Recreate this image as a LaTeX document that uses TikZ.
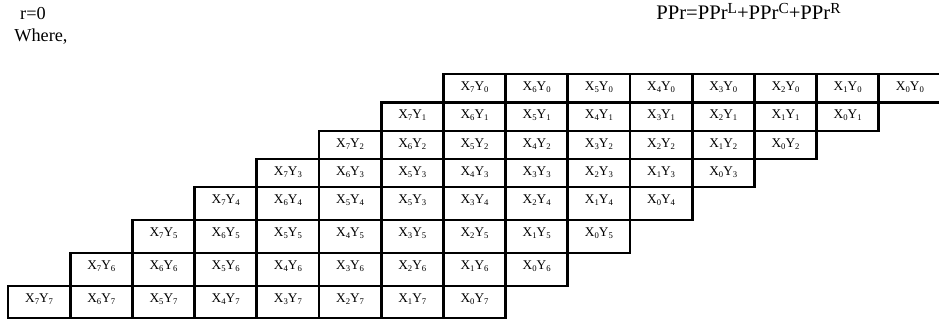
\documentclass[tikz,border=0pt]{standalone}
\usepackage{fontspec}
\setmainfont{Liberation Serif}
\usepackage{tikz}
\usetikzlibrary{positioning, calc}

\newcommand{\lowidx}[1]{\raisebox{-0.3ex}{\fontsize{6.5}{7}\selectfont #1}}
\newcommand{\highidx}[1]{\raisebox{0.7ex}{\fontsize{11.5}{12}\selectfont #1}}

\tikzset{
  cellbox/.style={draw=black, line width=2pt, fill=white},
  celltext/.style={font=\fontsize{10}{11}\selectfont, inner sep=0pt},
  headtext/.style={font=\fontsize{13.7}{15}\selectfont, inner sep=0pt},
  eqtext/.style={font=\fontsize{15.5}{17}\selectfont, inner sep=0pt}
}

\begin{document}
\begin{tikzpicture}[x=0.75pt, y=-0.75pt]
  \useasboundingbox (0,0) rectangle (939,321);

  %% Heading
  \node[headtext, anchor=base] (rzero) at (33,20) {r=0};
  \node[headtext, anchor=base west] (where) at (14,42) {Where,};
  \node[eqtext, anchor=base west] (ppr) at (656,20)
    {PPr=PPr\highidx{L}+PPr\highidx{C}+PPr\highidx{R}};

  %% Partial product rows: row / top / bottom
  \foreach \r/\top/\bot in {0/74/102.5, 1/102.5/131, 2/131/159, 3/159/187,
                            4/187/220, 5/220/253, 6/253/286, 7/286/318} {
    \foreach \k in {0,...,7} {
      \pgfmathtruncatemacro\col{7-\r+\k}
      \pgfmathtruncatemacro\xi{(\r==4 && \k==3) ? 5 : 7-\k}
      \pgfmathtruncatemacro\yi{(\r==4 && \k==3) ? 3 : \r}
      \draw[cellbox] ({8+\col*62.2},\top) rectangle ({8+(\col+1)*62.2},\bot);
      \node[celltext] (c\r\k) at ({8+(\col+0.5)*62.2},\top+13)
        {X\lowidx{\xi}Y\lowidx{\yi}};
    }
  }
\end{tikzpicture}
\end{document}
